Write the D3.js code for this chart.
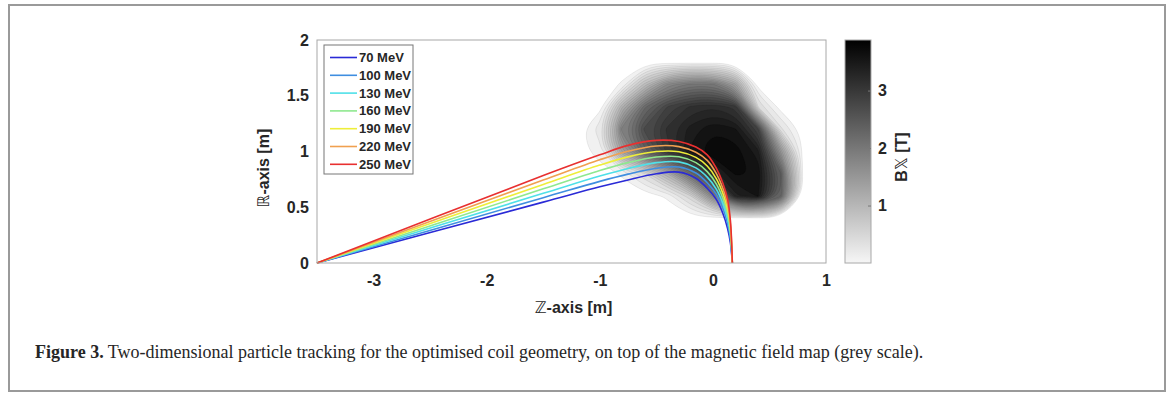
<!DOCTYPE html>
<html>
<head>
<meta charset="utf-8">
<script src="https://cdn.jsdelivr.net/npm/d3@7"></script>
<style>
body { margin: 0; background: #fff; }
svg text { font-family: "Liberation Sans", Arial, sans-serif; fill: #262626; }
</style>
</head>
<body>
<svg id="fig" width="1169" height="394"></svg>
<script>
// beam energies and their colours
var energies = ['70 MeV', '100 MeV', '130 MeV', '160 MeV', '190 MeV', '220 MeV', '250 MeV'];
var colors = ['#2a2ad6', '#3f8ee0', '#4fe0e8', '#8fe88f', '#eeee3a', '#f0a050', '#e83030'];

// trajectories, R values read at these Z positions
var trackZ = [-3.5, -1.5, -1.0, -0.75, -0.5, -0.3, -0.15, -0.05, 0.03, 0.09, 0.13, 0.155, 0.172];
var track70  = [0, 0.546, 0.683, 0.745, 0.800, 0.815, 0.760, 0.670, 0.570, 0.440, 0.310, 0.180, 0];
var track100 = [0, 0.586, 0.732, 0.797, 0.850, 0.861, 0.807, 0.720, 0.617, 0.485, 0.353, 0.213, 0];
var track130 = [0, 0.625, 0.780, 0.848, 0.900, 0.907, 0.853, 0.770, 0.663, 0.530, 0.397, 0.247, 0];
var track160 = [0, 0.665, 0.829, 0.900, 0.950, 0.953, 0.900, 0.820, 0.710, 0.575, 0.440, 0.280, 0];
var track190 = [0, 0.705, 0.878, 0.952, 1.000, 0.998, 0.947, 0.870, 0.757, 0.620, 0.483, 0.313, 0];
var track220 = [0, 0.744, 0.926, 1.003, 1.050, 1.044, 0.993, 0.920, 0.803, 0.665, 0.527, 0.347, 0];
var track250 = [0, 0.784, 0.970, 1.055, 1.100, 1.090, 1.040, 0.970, 0.850, 0.710, 0.570, 0.380, 0];
var tracks = [track70, track100, track130, track160, track190, track220, track250];

// field map B [T] on a coarse grid (rows from top R=2.0 down to R=0)
var fieldZ = [-1.4, -1.2, -1.0, -0.8, -0.6, -0.4, -0.2, 0.0, 0.2, 0.4, 0.6, 0.8, 1.0];
var fieldR = [2.0, 1.8, 1.6, 1.4, 1.2, 1.0, 0.8, 0.6, 0.4, 0.2, 0.0];
var fieldB = [
  [0, 0, 0,    0,   0,   0,   0,    0,    0,    0,   0,   0, 0],
  [0, 0, 0,    0,   0,   0,   0,    0,    0,    0,   0,   0, 0],
  [0, 0, 0,    0.1, 1.0, 1.8, 2.1,  2.1,  1.4,  0,   0,   0, 0],
  [0, 0, 0,    1.2, 2.3, 2.9, 3.2,  3.3,  3.1,  0.5, 0,   0, 0],
  [0, 0, 0.3,  2.0, 2.8, 3.2, 3.5,  3.7,  3.6,  2.9, 0.4, 0, 0],
  [0, 0, 0.15, 1.4, 2.4, 3.1, 3.6,  3.85, 3.8,  3.5, 1.6, 0, 0],
  [0, 0, 0,    0.1, 0.5, 1.2, 2.2,  3.3,  3.75, 3.7, 2.5, 0, 0],
  [0, 0, 0,    0,   0,   0.1, 0.6,  1.8,  3.4,  3.6, 2.4, 0, 0],
  [0, 0, 0,    0,   0,   0,   0,    0,    0,    0,   0,   0, 0],
  [0, 0, 0,    0,   0,   0,   0,    0,    0,    0,   0,   0, 0],
  [0, 0, 0,    0,   0,   0,   0,    0,    0,    0,   0,   0, 0]
];

var zTicks = [-3, -2, -1, 0, 1];
var rTicks = [0, 0.5, 1, 1.5, 2];
var bTicks = [1, 2, 3];
var bMax = 3.88;

var svg = d3.select('#fig');

// outer figure frame
svg.append('rect')
   .attr('x', 9).attr('y', 5)
   .attr('width', 1156).attr('height', 386)
   .attr('fill', 'none')
   .attr('stroke', '#9a9a9a')
   .attr('stroke-width', 2);

var pLeft = 317, pRight = 826, pTop = 40, pBottom = 263;

var x = d3.scaleLinear().domain([-3.5, 1]).range([pLeft, pRight]);
var y = d3.scaleLinear().domain([0, 2]).range([pBottom, pTop]);
var grey = d3.scaleLinear().domain([0, bMax]).range(['#f6f6f6', '#000000']);

// field map as filled contours
var values = [];
fieldB.forEach(function (row) { values = values.concat(row); });
var dz = fieldZ[1] - fieldZ[0];
var dr = fieldR[0] - fieldR[1];
var levels = d3.range(0.08, bMax, 0.14);
var contours = d3.contours()
    .size([fieldZ.length, fieldR.length])
    .thresholds(levels)(values);

var ringLine = d3.line()
    .x(function (p) { return x(fieldZ[0] + (p[0] - 0.5) * dz); })
    .y(function (p) { return y(fieldR[0] - (p[1] - 0.5) * dr); })
    .curve(d3.curveBasisClosed);

var field = svg.append('g');
field.selectAll('path')
     .data(contours)
     .enter().append('path')
     .attr('d', function (c) {
         var d = '';
         c.coordinates.forEach(function (poly) {
             poly.forEach(function (ring) {
                 d += ringLine(ring.slice(0, -1));
             });
         });
         return d;
     })
     .attr('fill', function (c) { return grey(c.value); })
     .attr('stroke', 'rgba(0,0,0,0.12)')
     .attr('stroke-width', 0.6);

// trajectories
var line = d3.line()
    .x(function (d) { return x(d[0]); })
    .y(function (d) { return y(d[1]); })
    .curve(d3.curveCatmullRom.alpha(0.5));

svg.append('g')
   .selectAll('path')
   .data(tracks)
   .enter().append('path')
   .attr('d', function (t) {
       return line(t.map(function (r, i) { return [trackZ[i], r]; }));
   })
   .attr('fill', 'none')
   .attr('stroke', function (t, i) { return colors[i]; })
   .attr('stroke-width', 1.6);

// axes box
svg.append('rect')
   .attr('x', pLeft).attr('y', pTop)
   .attr('width', pRight - pLeft).attr('height', pBottom - pTop)
   .attr('fill', 'none')
   .attr('stroke', '#a8a8a8')
   .attr('stroke-width', 1);

var xAxis = svg.append('g')
    .attr('transform', 'translate(0,' + pBottom + ')')
    .call(d3.axisBottom(x).tickValues(zTicks).tickSize(0).tickPadding(12)
          .tickFormat(function (d) { return String(d); }));
xAxis.select('.domain').remove();
xAxis.selectAll('text')
     .style('font-size', '16px').style('font-weight', 'bold').attr('fill', '#262626');

var yAxis = svg.append('g')
    .attr('transform', 'translate(' + pLeft + ',0)')
    .call(d3.axisLeft(y).tickValues(rTicks).tickSize(0).tickPadding(8)
          .tickFormat(function (d) { return String(d); }));
yAxis.select('.domain').remove();
yAxis.selectAll('text')
     .style('font-size', '16px').style('font-weight', 'bold').attr('fill', '#262626');

// axis titles
var xt = svg.append('text')
    .attr('x', (pLeft + pRight) / 2 + 2).attr('y', 313)
    .attr('text-anchor', 'middle')
    .style('font-size', '16px');
xt.append('tspan').style('font-family', 'DejaVu Sans').style('font-weight', 'normal').text('\u2124');
xt.append('tspan').style('font-weight', 'bold').text('-axis [m]');

var yt = svg.append('text')
    .attr('transform', 'translate(269,' + 168 + ') rotate(-90)')
    .attr('text-anchor', 'middle')
    .style('font-size', '16px');
yt.append('tspan').style('font-family', 'DejaVu Sans').style('font-weight', 'normal').text('\u211D');
yt.append('tspan').style('font-weight', 'bold').text('-axis [m]');

// legend
var lg = svg.append('g').attr('transform', 'translate(324,45)');
lg.append('rect')
  .attr('width', 89).attr('height', 129)
  .attr('fill', '#fff')
  .attr('stroke', '#777')
  .attr('stroke-width', 1);
energies.forEach(function (e, i) {
    var yy = 12.5 + i * 17.8;
    lg.append('line')
      .attr('x1', 6).attr('x2', 33)
      .attr('y1', yy).attr('y2', yy)
      .attr('stroke', colors[i]).attr('stroke-width', 1.6);
    lg.append('text')
      .attr('x', 35).attr('y', yy + 4.5)
      .style('font-size', '13px').style('font-weight', 'bold')
      .text(e);
});

// colour bar
var cbX = 845, cbW = 26;
var cb = d3.scaleLinear().domain([0, bMax]).range([pBottom, pTop]);
var defs = svg.append('defs');
var grad = defs.append('linearGradient')
    .attr('id', 'cbgrad')
    .attr('x1', 0).attr('y1', 1).attr('x2', 0).attr('y2', 0);
grad.append('stop').attr('offset', '0%').attr('stop-color', grey(0));
grad.append('stop').attr('offset', '100%').attr('stop-color', grey(bMax));
svg.append('rect')
   .attr('x', cbX).attr('y', pTop)
   .attr('width', cbW).attr('height', pBottom - pTop)
   .attr('fill', 'url(#cbgrad)')
   .attr('stroke', '#a8a8a8')
   .attr('stroke-width', 1);

var cAxis = svg.append('g')
    .attr('transform', 'translate(' + (cbX + cbW) + ',0)')
    .call(d3.axisRight(cb).tickValues(bTicks).tickSize(0).tickPadding(7)
          .tickFormat(function (d) { return String(d); }));
cAxis.select('.domain').remove();
cAxis.selectAll('text')
     .style('font-size', '16px').style('font-weight', 'bold').attr('fill', '#262626');
cAxis.selectAll('.tick').append('line')
     .attr('x1', -3).attr('x2', 0)
     .attr('stroke', '#777');

var ct = svg.append('text')
    .attr('transform', 'translate(907,157) rotate(-90)')
    .attr('text-anchor', 'middle')
    .style('font-size', '16px');
ct.append('tspan').style('font-weight', 'bold').text('B');
ct.append('tspan').style('font-family', 'DejaVu Sans').style('font-weight', 'normal').text('\uD835\uDD4F');
ct.append('tspan').style('font-weight', 'bold').text(' [T]');

// caption
var cap = svg.append('text')
    .attr('x', 35).attr('y', 358)
    .style('font-family', '"Liberation Serif", "Times New Roman", serif')
    .style('font-size', '18px')
    .attr('fill', '#111');
cap.append('tspan').style('font-weight', 'bold').text('Figure 3.');
cap.append('tspan').text(' Two-dimensional particle tracking for the optimised coil geometry, on top of the magnetic field map (grey scale).');
</script>
</body>
</html>
